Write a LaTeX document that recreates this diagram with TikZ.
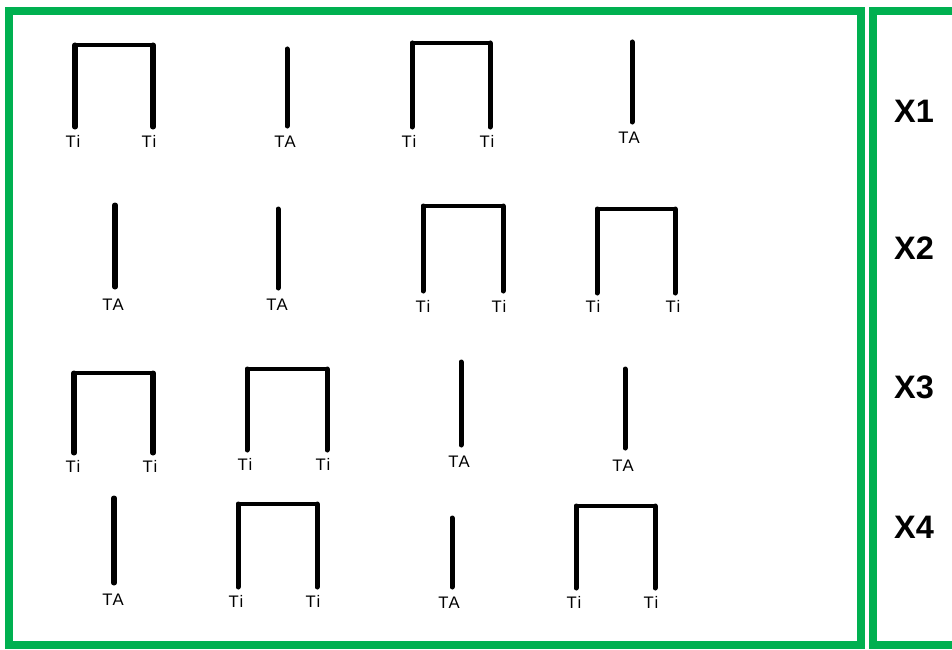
\documentclass[tikz,border=0pt]{standalone}
\usepackage{fontspec}
\setmainfont{Liberation Sans}
\newfontfamily\tagfont[LetterSpace=8]{Liberation Sans}
\usepackage{xcolor}
\usetikzlibrary{positioning}
\definecolor{framegreen}{HTML}{00B050}

\begin{document}
\begin{tikzpicture}[
  x=0.02cm, y=-0.02cm,
  frame/.style={draw=framegreen, line width=0.15cm},
  leg/.style={line width=2.85pt, line cap=round},
  bar/.style={line width=1.9pt, line cap=round},
  tag/.style={font=\tagfont\fontsize{9.5}{10}\selectfont, inner sep=0pt},
  rowlab/.style={font=\fontsize{18.5}{20}\selectfont\bfseries, inner sep=0pt}
]

%% canvas in pixel units: 952 x 649, y grows downwards
\useasboundingbox (0,0) rectangle (952,649);
\clip (0,0) rectangle (952,649);

%% ─── FRAMES ─────────────────────────────────────────────────────────────────
\draw[frame] (9,11) rectangle (861,645);
\draw[frame] (873,11) rectangle (965,645);

%% ─── ROW LABELS (right frame) ───────────────────────────────────────────────
\node[rowlab] (x1) at (914,111) {X1};
\node[rowlab] (x2) at (914,248) {X2};
\node[rowlab] (x3) at (914,387) {X3};
\node[rowlab] (x4) at (914,527) {X4};

%% ─── ROW 1 ──────────────────────────────────────────────────────────────────
%% pair a
\coordinate (pa_tl) at (75,45);   \coordinate (pa_tr) at (153,45);
\coordinate (pa_bl) at (75,127);  \coordinate (pa_br) at (153,127);
\node[tag] (pa_ti1) at (73,141) {Ti};
\node[tag] (pa_ti2) at (149,141) {Ti};
\draw[leg] (pa_bl) -- (pa_tl);
\draw[leg] (pa_br) -- (pa_tr);
\draw[bar] (pa_tl) -- (pa_tr);
%% single a
\coordinate (sa_t) at (287,49);   \coordinate (sa_b) at (287,126);
\node[tag] (sa_ta) at (285,142) {TA};
\draw[leg] (sa_b) -- (sa_t);
%% pair b
\coordinate (pb_tl) at (412,43);  \coordinate (pb_tr) at (490,43);
\coordinate (pb_bl) at (412,127); \coordinate (pb_br) at (490,127);
\node[tag] (pb_ti1) at (409,141) {Ti};
\node[tag] (pb_ti2) at (487,141) {Ti};
\draw[leg] (pb_bl) -- (pb_tl);
\draw[leg] (pb_br) -- (pb_tr);
\draw[bar] (pb_tl) -- (pb_tr);
%% single b
\coordinate (sb_t) at (632,42);   \coordinate (sb_b) at (632,122);
\node[tag] (sb_ta) at (629,138) {TA};
\draw[leg] (sb_b) -- (sb_t);

%% ─── ROW 2 ──────────────────────────────────────────────────────────────────
%% single c
\coordinate (sc_t) at (115,205);  \coordinate (sc_b) at (115,287);
\node[tag] (sc_ta) at (113,305) {TA};
\draw[leg] (sc_b) -- (sc_t);
%% single d
\coordinate (sd_t) at (278,209);  \coordinate (sd_b) at (278,288);
\node[tag] (sd_ta) at (277,305) {TA};
\draw[leg] (sd_b) -- (sd_t);
%% pair c
\coordinate (pc_tl) at (423,206); \coordinate (pc_tr) at (503,206);
\coordinate (pc_bl) at (423,291); \coordinate (pc_br) at (503,291);
\node[tag] (pc_ti1) at (423,306) {Ti};
\node[tag] (pc_ti2) at (499,306) {Ti};
\draw[leg] (pc_bl) -- (pc_tl);
\draw[leg] (pc_br) -- (pc_tr);
\draw[bar] (pc_tl) -- (pc_tr);
%% pair d
\coordinate (pd_tl) at (597,209); \coordinate (pd_tr) at (675,209);
\coordinate (pd_bl) at (597,293); \coordinate (pd_br) at (675,293);
\node[tag] (pd_ti1) at (593,306) {Ti};
\node[tag] (pd_ti2) at (673,306) {Ti};
\draw[leg] (pd_bl) -- (pd_tl);
\draw[leg] (pd_br) -- (pd_tr);
\draw[bar] (pd_tl) -- (pd_tr);

%% ─── ROW 3 ──────────────────────────────────────────────────────────────────
%% pair e
\coordinate (pe_tl) at (74,373);  \coordinate (pe_tr) at (153,373);
\coordinate (pe_bl) at (74,453);  \coordinate (pe_br) at (153,453);
\node[tag] (pe_ti1) at (73,466) {Ti};
\node[tag] (pe_ti2) at (150,466) {Ti};
\draw[leg] (pe_bl) -- (pe_tl);
\draw[leg] (pe_br) -- (pe_tr);
\draw[bar] (pe_tl) -- (pe_tr);
%% pair f
\coordinate (pf_tl) at (247,369); \coordinate (pf_tr) at (327,369);
\coordinate (pf_bl) at (247,450); \coordinate (pf_br) at (327,450);
\node[tag] (pf_ti1) at (245,464) {Ti};
\node[tag] (pf_ti2) at (323,464) {Ti};
\draw[leg] (pf_bl) -- (pf_tl);
\draw[leg] (pf_br) -- (pf_tr);
\draw[bar] (pf_tl) -- (pf_tr);
%% single e
\coordinate (se_t) at (461,362);  \coordinate (se_b) at (461,445);
\node[tag] (se_ta) at (459,462) {TA};
\draw[leg] (se_b) -- (se_t);
%% single f
\coordinate (sf_t) at (625,369);  \coordinate (sf_b) at (625,448);
\node[tag] (sf_ta) at (623,466) {TA};
\draw[leg] (sf_b) -- (sf_t);

%% ─── ROW 4 ──────────────────────────────────────────────────────────────────
%% single g
\coordinate (sg_t) at (114,498);  \coordinate (sg_b) at (114,583);
\node[tag] (sg_ta) at (113,600) {TA};
\draw[leg] (sg_b) -- (sg_t);
%% pair g
\coordinate (pg_tl) at (238,504); \coordinate (pg_tr) at (317,504);
\coordinate (pg_bl) at (238,587); \coordinate (pg_br) at (317,587);
\node[tag] (pg_ti1) at (236,601) {Ti};
\node[tag] (pg_ti2) at (313,601) {Ti};
\draw[leg] (pg_bl) -- (pg_tl);
\draw[leg] (pg_br) -- (pg_tr);
\draw[bar] (pg_tl) -- (pg_tr);
%% single h
\coordinate (sh_t) at (452,518);  \coordinate (sh_b) at (452,587);
\node[tag] (sh_ta) at (449,603) {TA};
\draw[leg] (sh_b) -- (sh_t);
%% pair h
\coordinate (ph_tl) at (576,506); \coordinate (ph_tr) at (655,506);
\coordinate (ph_bl) at (576,588); \coordinate (ph_br) at (655,588);
\node[tag] (ph_ti1) at (574,602) {Ti};
\node[tag] (ph_ti2) at (651,602) {Ti};
\draw[leg] (ph_bl) -- (ph_tl);
\draw[leg] (ph_br) -- (ph_tr);
\draw[bar] (ph_tl) -- (ph_tr);

\end{tikzpicture}
\end{document}
